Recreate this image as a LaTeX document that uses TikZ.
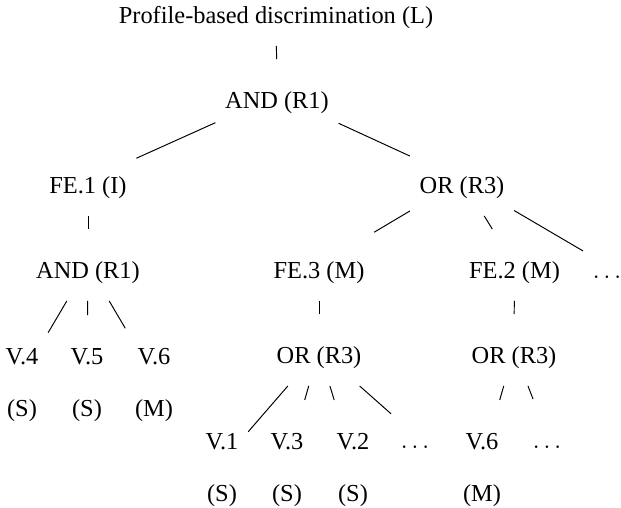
\documentclass[tikz,border=0pt]{standalone}
\usepackage{fontspec}
\setmainfont{Liberation Serif}

\tikzset{
  NodeStyle/.style={inner xsep=3.8pt, inner ysep=7.2pt, text height=12.7pt, text depth=2pt},
  LeafStyle/.style={inner xsep=3.8pt, inner ysep=7.2pt, align=center, text height=34pt, text depth=2pt},
  EdgeStyle/.style={draw, line width=0.4pt}
}

\begin{document}
\begin{tikzpicture}[x=0.41pt, y=-0.41pt]
\useasboundingbox (0,0) rectangle (621,508);
\node[NodeStyle] (L) at (276,10) {Profile-based discrimination (L)};
\node[NodeStyle] (A) at (277,95) {AND (R1)};
\node[NodeStyle] (F1) at (88,180) {FE.1 (I)};
\node[NodeStyle] (O) at (462,180) {OR (R3)};
\node[NodeStyle] (A2) at (88,265) {AND (R1)};
\node[NodeStyle] (F3) at (319,265) {FE.3 (M)};
\node[NodeStyle] (F2) at (514.5,265) {FE.2 (M)};
\node[NodeStyle] (Da) at (607,265) {$\dots$};
\node[LeafStyle] (V4) at (22,377) {V.4\\[9.3pt](S)};
\node[LeafStyle] (V5) at (87,377) {V.5\\[9.3pt](S)};
\node[LeafStyle] (V6) at (154,377) {V.6\\[9.3pt](M)};
\node[NodeStyle] (O2) at (319,350) {OR (R3)};
\node[NodeStyle] (O3) at (514,350) {OR (R3)};
\node[LeafStyle] (V1) at (222,462) {V.1\\[9.3pt](S)};
\node[LeafStyle] (V3) at (287,462) {V.3\\[9.3pt](S)};
\node[LeafStyle] (V2) at (353,462) {V.2\\[9.3pt](S)};
\node[NodeStyle] (Db) at (415,435) {$\dots$};
\node[LeafStyle] (W6) at (482,462) {V.6\\[9.3pt](M)};
\node[NodeStyle] (Dc) at (547,435) {$\dots$};
\draw[EdgeStyle] (L) -- (A);
\draw[EdgeStyle] (A) -- (F1);
\draw[EdgeStyle] (A) -- (O);
\draw[EdgeStyle] (F1) -- (A2);
\draw[EdgeStyle] (A2) -- (V4);
\draw[EdgeStyle] (A2) -- (V5);
\draw[EdgeStyle] (A2) -- (V6);
\draw[EdgeStyle] (O) -- (F3);
\draw[EdgeStyle] (O) -- (F2);
\draw[EdgeStyle] (O) -- (Da);
\draw[EdgeStyle] (F3) -- (O2);
\draw[EdgeStyle] (F2) -- (O3);
\draw[EdgeStyle] (O2) -- (V1);
\draw[EdgeStyle] (O2) -- (V3);
\draw[EdgeStyle] (O2) -- (V2);
\draw[EdgeStyle] (O2) -- (Db);
\draw[EdgeStyle] (O3) -- (W6);
\draw[EdgeStyle] (O3) -- (Dc);
\end{tikzpicture}
\end{document}
